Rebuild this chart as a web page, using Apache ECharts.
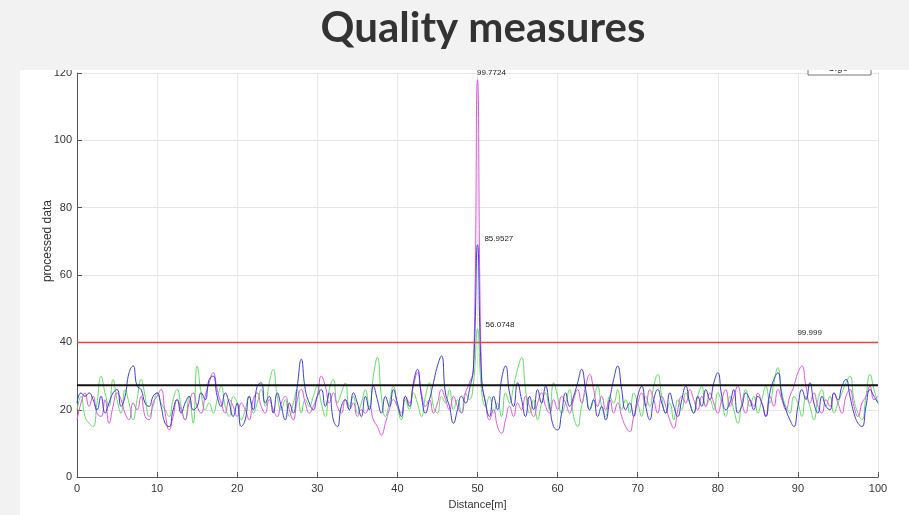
<!DOCTYPE html>
<html>
<head>
<meta charset="utf-8">
<script src="https://cdn.jsdelivr.net/npm/echarts@6/dist/echarts.min.js"></script>
<style>
html,body{margin:0;padding:0;background:#f2f2f2;}
#c{width:909px;height:515px;}
</style>
</head>
<body>
<div id="c"></div>
<script>
// sample spacing along distance axis (m)
var step = 0.5;
var xTicks = [0,10,20,30,40,50,60,70,80,90,100];
var yTicks = [0,20,40,60,80,100,120];

var blueVals = [
22,25,24,25,23,20,24,19,22,25,26,21,24,31,33,27,26,22,21,24,
25,21,16,15,20,23,19,22,24,20,21,25,23,29,30,24,21,25,22,18,
22,15,17,24,20,27,28,22,24,19,25,21,17,22,19,27,35,26,22,20,
24,26,21,25,17,15,21,23,20,25,22,18,24,20,27,23,19,24,21,26,
22,18,24,21,28,32,24,19,23,28,33,36,25,21,16,20,24,22,26,33,
69,30,22,18,24,20,29,33,25,21,28,23,18,24,20,26,22,27,21,15,
14,19,25,21,24,28,32,26,20,23,18,21,17,23,29,33,26,20,22,18,
24,27,21,17,23,26,22,19,25,21,18,23,27,22,19,24,21,26,23,28,
31,24,20,22,26,19,21,25,23,20,24,22,18,25,29,31,24,20,17,15,
21,26,23,28,22,19,24,21,20,25,23,27,29,24,19,16,15,21,26,24,
22];
var greenVals = [
20,24,18,16,15,22,30,25,21,29,23,19,26,22,17,23,29,24,18,21,
25,22,20,18,23,26,21,17,24,16,33,25,20,22,19,23,27,21,18,24,
22,17,20,24,19,22,26,21,28,32,24,20,23,18,22,26,19,23,21,24,
27,22,18,26,29,22,25,28,21,24,19,22,26,20,30,35.5,24,18,22,27,
21,17,23,20,25,22,18,24,28,21,19,24,22,26,20,23,19,25,23,28,
44,26,21,24,19,22,18,25,22,27,32,35.5,26,19,23,17,22,25,20,28,
24,19,22,26,18,15,21,25,20,23,27,21,18,24,22,26,20,23,19,25,
22,18,24,21,27,30.5,24,19,22,17,23,20,25,22,19,24,27,21,23,20,
25,22,18,24,20,16,22,26,21,24,19,23,27,22,28,32.5,25,21,19,24,
22,18,24,21,17,23,26,21,24,19,22,25,28,30,23,19,17,24,30.5,26,
22];
var magentaVals = [
17,22,25,21,24,19,18,23,16,21,25,23,19,17,22,20,24,18,17,22,
24,26,19,14,18,23,20,17,22,25,21,19,24,28,31,26,22,19,23,21,
18,22,20,17,23,25,21,19,23,20,18,22,24,20,17,23,26,22,19,21,
24,30,27,22,25,21,19,23,20,22,18,20,19,21,17,15,12.5,16,20,23,
21,19,24,22,27,31,25,21,23,19,22,26,23,20,24,21,19,25,28,32,
118,30,22,17,20,15,13,17,21,18,22,20,24,21,18,22,25,21,19,23,
20,24,22,19,23,26,22,27,30.5,26,21,24,20,23,19,22,18,15,13.5,18,
22,25,21,26,23,19,24,21,17,14.5,20,24,22,26,23,20,24,21,25,22,
19,23,26,21,24,27,22,19,23,21,25,22,18,24,21,26,23,20,24,27,
31,33,27,22,25,21,19,23,21,25,22,19,24,26,21,18,22,24,27,23,
24];

var redLevel = 40, redLabel = '99.999', redLabelX = 90;
var blackLevel = 27.3;
var peakX = [50, 50.05, 50.2];
var peakY = [118.2, 69, 43.7];
var peakLabels = ['99.7724', '85.9527', '56.0748'];

function pts(vals){ return vals.map(function(v,i){ return [i*step, v]; }); }

var chart = echarts.init(document.getElementById('c'), null, {renderer:'canvas'});
var lblFont = 'Liberation Sans, Arial, sans-serif';
function peakMark(i, off){
  return {
    symbol:'circle', symbolSize:1, silent:true,
    itemStyle:{color:'rgba(0,0,0,0)'},
    label:{show:true, position:off, formatter:peakLabels[i], color:'#222', fontSize:8, fontFamily:lblFont},
    data:[{coord:[peakX[i], peakY[i]]}]
  };
}
var option = {
  backgroundColor:'#f2f2f2',
  animation:false,
  graphic:[
    {type:'rect', z:-10, shape:{x:20,y:70,width:889,height:445}, style:{fill:'#ffffff'}},
    {type:'rect', z:50, shape:{x:808,y:60,width:63,height:15}, style:{fill:'#ffffff', stroke:'#777', lineWidth:1}},
    {type:'text', z:51, style:{x:838,y:73,text:'Sigo', fill:'#333', font:'10px Liberation Sans, Arial', textAlign:'center', textVerticalAlign:'bottom'}},
    {type:'rect', z:100, shape:{x:0,y:0,width:909,height:70}, style:{fill:'#f2f2f2'}},
    {type:'text', z:101, style:{x:483,y:28,text:'Quality measures', fill:'#333333', font:'bold 42px Lato, sans-serif', textAlign:'center', textVerticalAlign:'middle'}}
  ],
  grid:{left:77, right:31, top:73, bottom:36, containLabel:false},
  xAxis:{
    type:'value', min:0, max:100, interval:10,
    name:'Distance[m]', nameLocation:'middle', nameGap:18,
    nameTextStyle:{color:'#333', fontSize:11, fontFamily:lblFont},
    axisLine:{show:true, lineStyle:{color:'#555', width:1}},
    axisTick:{show:true, inside:true, length:5, lineStyle:{color:'#555'}},
    axisLabel:{color:'#333', fontSize:11, fontFamily:lblFont, margin:6},
    splitLine:{show:true, lineStyle:{color:'#e6e6e6', width:1}}
  },
  yAxis:{
    type:'value', min:0, max:120, interval:20,
    name:'processed data', nameLocation:'middle', nameGap:23, nameRotate:90, nameMoveOverlap:false,
    nameTextStyle:{color:'#333', fontSize:12, fontFamily:lblFont, padding:[0,0,0,68]},
    axisLine:{show:true, lineStyle:{color:'#555', width:1}},
    axisTick:{show:true, inside:true, length:5, lineStyle:{color:'#555'}},
    axisLabel:{color:'#333', fontSize:11, fontFamily:lblFont, margin:5},
    splitLine:{show:true, lineStyle:{color:'#e6e6e6', width:1}}
  },
  series:[
    {type:'line', name:'green', data:pts(greenVals), showSymbol:false, smooth:true, lineStyle:{color:'#5fe05f', width:1}, itemStyle:{color:'#5fe05f'}, z:3,
      markPoint:peakMark(2,[7,-9])},
    {type:'line', name:'magenta', data:pts(magentaVals), showSymbol:false, smooth:true, lineStyle:{color:'#e055e0', width:1}, itemStyle:{color:'#e055e0'}, z:4,
      markPoint:peakMark(0,[0,-10])},
    {type:'line', name:'blue', data:pts(blueVals), showSymbol:false, smooth:true, lineStyle:{color:'#3c3cd8', width:1}, itemStyle:{color:'#3c3cd8'}, z:5,
      markPoint:peakMark(1,[7,-9])},
    {type:'line', name:'black', data:[[0,blackLevel],[100,blackLevel]], showSymbol:false, lineStyle:{color:'#111', width:2}, z:6},
    {type:'line', name:'red', data:[[0,redLevel],[100,redLevel]], showSymbol:false, lineStyle:{color:'#e8453c', width:1.5}, z:6,
      markPoint:{symbol:'circle', symbolSize:1, silent:true, itemStyle:{color:'rgba(0,0,0,0)'},
        label:{show:true, position:[0,-13], formatter:redLabel, color:'#222', fontSize:8, fontFamily:lblFont},
        data:[{coord:[redLabelX, redLevel]}]}}
  ]
};
chart.setOption(option);
</script>
</body>
</html>
